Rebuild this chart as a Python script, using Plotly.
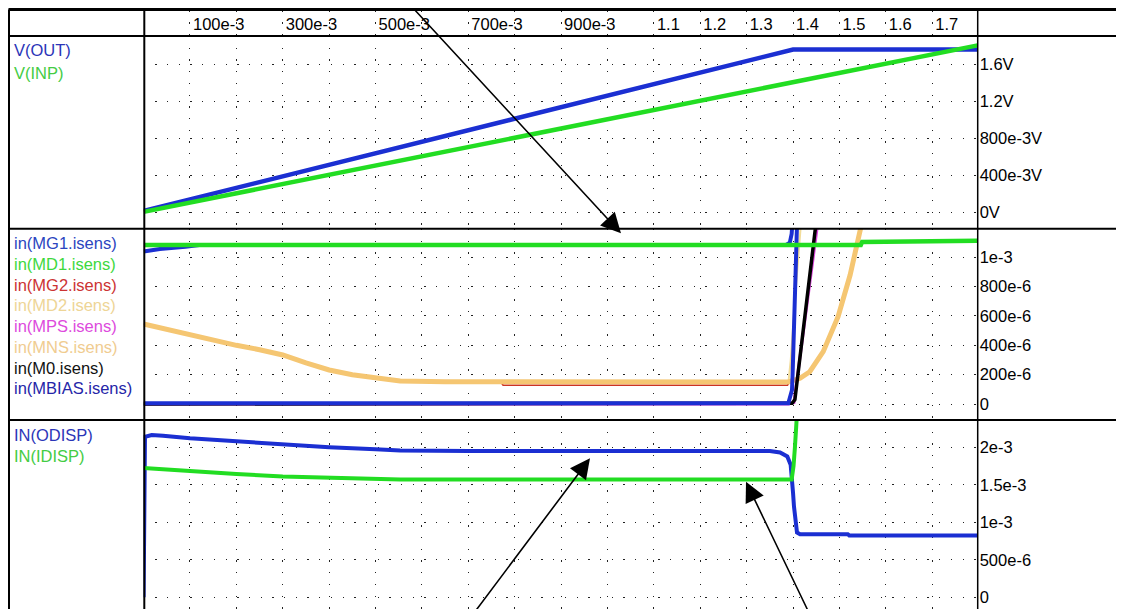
import plotly.graph_objects as go

W, H = 1124, 609
OX, OY = 8, 8  # page offset of the figure inside the browser window

# ---------------- data ----------------
# sweep axis (V)
x_ticks = [0.1, 0.2, 0.3, 0.4, 0.5, 0.6, 0.7, 0.8, 0.9, 1.0, 1.1, 1.2, 1.3, 1.4, 1.5, 1.6, 1.7]
x_tick_text = ["100e-3", "", "300e-3", "", "500e-3", "", "700e-3", "", "900e-3", "",
               "1.1", "1.2", "1.3", "1.4", "1.5", "1.6", "1.7"]

# panel 1 : voltages
x_vout = [0.0, 1.4, 1.798]
v_out = [0.015, 1.76, 1.76]
x_vinp = [0.0, 1.798]
v_inp = [0.005, 1.805]
p1_ticks = [0.0, 0.4, 0.8, 1.2, 1.6]
p1_tick_text = ["0V", "400e-3V", "800e-3V", "1.2V", "1.6V"]

# panel 2 : device currents
x_mg1 = [0.0, 0.035, 0.09, 0.12, 1.385, 1.393, 1.397, 1.40]
i_mg1 = [1.04e-3, 1.057e-3, 1.072e-3, 1.084e-3, 1.084e-3, 1.10e-3, 1.16e-3, 1.30e-3]

x_md1 = [0.0, 1.546, 1.549, 1.725, 1.728, 1.798]
i_md1 = [1.084e-3, 1.084e-3, 1.105e-3, 1.105e-3, 1.112e-3, 1.112e-3]

x_mg2 = [0.0, 0.1, 0.2, 0.25, 0.3, 0.35, 0.4, 0.45, 0.5, 0.553, 0.65, 0.77, 0.775,
         1.388, 1.392, 1.415, 1.436, 1.465, 1.497, 1.523, 1.548, 1.56]
i_mg2 = [0.545e-3, 0.47e-3, 0.40e-3, 0.37e-3, 0.334e-3, 0.28e-3, 0.232e-3, 0.20e-3, 0.175e-3,
         0.157e-3, 0.152e-3, 0.15e-3, 0.128e-3, 0.128e-3, 0.15e-3, 0.172e-3, 0.216e-3,
         0.352e-3, 0.59e-3, 0.875e-3, 1.22e-3, 1.40e-3]

x_md2 = [0.0, 0.1, 0.2, 0.25, 0.3, 0.35, 0.4, 0.45, 0.5, 0.553, 0.65, 1.39, 1.395, 1.405, 1.417, 1.42]
i_md2 = [0.545e-3, 0.47e-3, 0.40e-3, 0.37e-3, 0.334e-3, 0.28e-3, 0.232e-3, 0.20e-3, 0.175e-3,
         0.157e-3, 0.152e-3, 0.15e-3, 0.30e-3, 0.75e-3, 1.25e-3, 1.35e-3]

x_mps = [0.0, 1.39, 1.402, 1.41, 1.451, 1.456]
i_mps = [0.0, 0.0, 0.01e-3, 0.20e-3, 1.19e-3, 1.30e-3]

x_mns = [0.0, 0.1, 0.2, 0.25, 0.3, 0.35, 0.4, 0.45, 0.5, 0.553, 0.65, 1.0, 1.39,
         1.415, 1.436, 1.465, 1.497, 1.523, 1.548, 1.56]
i_mns = [0.545e-3, 0.47e-3, 0.40e-3, 0.37e-3, 0.334e-3, 0.28e-3, 0.232e-3, 0.20e-3, 0.175e-3,
         0.157e-3, 0.152e-3, 0.15e-3, 0.15e-3, 0.175e-3, 0.22e-3, 0.357e-3, 0.595e-3,
         0.879e-3, 1.22e-3, 1.40e-3]

x_m0 = [0.0, 1.39, 1.398, 1.404, 1.447, 1.452]
i_m0 = [0.0, 0.0, 0.005e-3, 0.03e-3, 1.19e-3, 1.30e-3]

x_mbias = [0.0, 1.3898, 1.3977, 1.3992, 1.4085, 1.412]
i_mbias = [0.005e-3, 0.005e-3, 0.095e-3, 0.22e-3, 1.22e-3, 1.50e-3]

p2_ticks = [0.0, 200e-6, 400e-6, 600e-6, 800e-6, 1e-3]
p2_tick_text = ["0", "200e-6", "400e-6", "600e-6", "800e-6", "1e-3"]

# panel 3 : displacement currents
x_odisp = [0.0, 0.003, 0.0175, 0.042, 0.1, 0.2, 0.3, 0.4, 0.5, 0.553, 0.7, 1.0, 1.35, 1.372,
           1.3876, 1.3948, 1.3977, 1.400, 1.402, 1.405, 1.4085, 1.415, 1.518, 1.521, 1.798]
i_odisp = [0.0, 2.14e-3, 2.163e-3, 2.155e-3, 2.12e-3, 2.077e-3, 2.04e-3, 2.0e-3, 1.973e-3,
           1.958e-3, 1.952e-3, 1.95e-3, 1.95e-3, 1.93e-3, 1.877e-3, 1.767e-3, 1.61e-3, 1.39e-3,
           1.21e-3, 0.989e-3, 0.864e-3, 0.84e-3, 0.84e-3, 0.825e-3, 0.825e-3]

x_idisp = [0.0, 0.1, 0.2, 0.3, 0.4, 0.5, 0.553, 1.397, 1.401, 1.404, 1.407, 1.41, 1.798]
i_idisp = [1.723e-3, 1.677e-3, 1.643e-3, 1.61e-3, 1.59e-3, 1.576e-3, 1.57e-3, 1.572e-3,
           1.75e-3, 2.0e-3, 2.35e-3, 2.6e-3, 2.6e-3]

p3_ticks = [0.0, 0.5e-3, 1.0e-3, 1.5e-3, 2.0e-3]
p3_tick_text = ["0", "500e-6", "1e-3", "1.5e-3", "2e-3"]

# legend labels
p1_names = ["V(OUT)", "V(INP)"]
p2_names = ["in(MG1.isens)", "in(MD1.isens)", "in(MG2.isens)", "in(MD2.isens)",
            "in(MPS.isens)", "in(MNS.isens)", "in(M0.isens)", "in(MBIAS.isens)"]
p3_names = ["IN(ODISP)", "IN(IDISP)"]

# ---------------- styling ----------------
BLUE = "#1b2fd2"
GREEN = "#22dd22"
RED = "#cc3322"
ORANGE = "#f5c672"
PALE = "#f2dc9a"
MAGENTA = "#dd44dd"
BLACK = "#000000"
FONT = "Liberation Sans, Arial, sans-serif"
FS = 16.5

p1_colors = ["#2b35b8", "#44cc44"]
p2_colors = ["#2b45c0", "#3ed83e", "#cc3333", "#eed596", "#dd4add", "#f0cc90", "#111111", "#2525a8"]
p3_colors = ["#2b35b8", "#44cc44"]


def py(px):
    """screen pixel row -> paper y"""
    return 1 - (px - OY) / H


def pxx(px):
    """screen pixel column -> paper x"""
    return (px - OX) / W


XDOM = [pxx(143.6), pxx(977.7)]
XRANGE = [0.0, (977.7 - 143.6) / 463.9]
DOT = "1.3px,10.4px"
GRIDC = "#222222"

fig = go.Figure()

# header (only for the tick labels / grid marks)
fig.add_trace(go.Scatter(x=[], y=[], xaxis="x", yaxis="y", showlegend=False, hoverinfo="skip"))

# panel 1
fig.add_trace(go.Scatter(x=x_vout, y=v_out, mode="lines", line=dict(color=BLUE, width=4.5),
                         xaxis="x2", yaxis="y2", name=p1_names[0]))
fig.add_trace(go.Scatter(x=x_vinp, y=v_inp, mode="lines", line=dict(color=GREEN, width=4.5),
                         xaxis="x2", yaxis="y2", name=p1_names[1]))

# panel 2 (drawing order: bottom -> top)
p2 = [
    (x_mg2, i_mg2, RED, 1.6, p2_names[2]),
    (x_md2, i_md2, PALE, 2.0, p2_names[3]),
    (x_mns, i_mns, ORANGE, 5.0, p2_names[5]),
    (x_mps, i_mps, MAGENTA, 3.0, p2_names[4]),
    (x_m0, i_m0, BLACK, 3.5, p2_names[6]),
    (x_mbias, i_mbias, BLUE, 4.0, p2_names[7]),
    (x_mg1, i_mg1, BLUE, 4.0, p2_names[0]),
    (x_md1, i_md1, GREEN, 4.5, p2_names[1]),
]
for xs, ys, c, w, n in p2:
    fig.add_trace(go.Scatter(x=xs, y=ys, mode="lines", line=dict(color=c, width=w),
                             xaxis="x3", yaxis="y3", name=n))

# panel 3
fig.add_trace(go.Scatter(x=x_odisp, y=i_odisp, mode="lines", line=dict(color=BLUE, width=4),
                         xaxis="x4", yaxis="y4", name=p3_names[0]))
fig.add_trace(go.Scatter(x=x_idisp, y=i_idisp, mode="lines", line=dict(color=GREEN, width=4),
                         xaxis="x4", yaxis="y4", name=p3_names[1]))

common_x = dict(domain=XDOM, range=XRANGE, tickvals=x_ticks, showgrid=True, gridcolor=GRIDC,
                gridwidth=1.3, griddash=DOT, zeroline=False, showline=False, ticks="",
                fixedrange=True)


def yax(rng, dom, ticks, text, anchor):
    return dict(domain=dom, range=rng, tickvals=ticks, ticktext=text, side="right",
                showgrid=True, gridcolor=GRIDC, gridwidth=1.3, griddash=DOT, zeroline=False,
                showline=False, ticks="", anchor=anchor, ticklabelstandoff=1,
                tickfont=dict(family=FONT, size=FS, color="#000000"))


BOTTOM = H + OY  # screen row of the figure's bottom edge
fig.update_layout(
    width=W, height=H, autosize=False,
    margin=dict(l=0, r=0, t=0, b=0, pad=0),
    paper_bgcolor="white", plot_bgcolor="white",
    showlegend=False,
    font=dict(family=FONT, size=FS, color="#000000"),
    xaxis=dict(common_x, anchor="y", side="top", ticktext=x_tick_text,
               ticklabelposition="inside right", ticklabelshift=3, ticklabelstandoff=2,
               tickfont=dict(family=FONT, size=FS, color="#000000")),
    yaxis=dict(domain=[py(36), py(10.5)], range=[0, 1], visible=False, anchor="x"),
    xaxis2=dict(common_x, anchor="y2", showticklabels=False),
    xaxis3=dict(common_x, anchor="y3", showticklabels=False),
    xaxis4=dict(common_x, anchor="y4", showticklabels=False),
    yaxis2=yax([-(229 - 212.3) / 92.5, (212.3 - 36) / 92.5], [py(229), py(36)],
               p1_ticks, p1_tick_text, "x2"),
    yaxis3=yax([-(420 - 404) / 146.7e3, (404 - 229) / 146.7e3], [py(420), py(229)],
               p2_ticks, p2_tick_text, "x3"),
    yaxis4=yax([-(BOTTOM - 597.3) / 75e3, (597.3 - 420) / 75e3], [0, py(420)],
               p3_ticks, p3_tick_text, "x4"),
)

# frame lines of the viewer window
frame = [
    (8.5, 9.5, W + OX, 9.5, 3),
    (9, 9.5, 9, BOTTOM, 2),
    (8.5, 36, W + OX, 36, 2),
    (8.5, 228.7, W + OX, 228.7, 2),
    (8.5, 420, W + OX, 420, 2),
    (144.3, 9.5, 144.3, BOTTOM, 2),
    (977.7, 9.5, 977.7, BOTTOM, 1.5),
]
for x0, y0, x1, y1, w in frame:
    fig.add_shape(type="line", xref="paper", yref="paper", x0=pxx(x0), y0=py(y0),
                  x1=pxx(x1), y1=py(y1), line=dict(color="#000000", width=w), layer="above")


# legend labels (coloured text, no symbols)
def add_labels(names, colors, y_first, step):
    for k, (n, c) in enumerate(zip(names, colors)):
        fig.add_annotation(xref="paper", yref="paper", x=pxx(12), y=py(y_first + k * step),
                           text=n, showarrow=False, xanchor="left", yanchor="middle",
                           font=dict(family=FONT, size=FS, color=c))


add_labels(p1_names, p1_colors, 49.7, 23.0)
add_labels(p2_names, p2_colors, 243.3, 20.7)
add_labels(p3_names, p3_colors, 435.0, 21.0)

# annotation arrows (tip in screen pixels, tail offset in pixels)
arrows = [
    (621, 233.3, -208, -257),
    (590, 458.3, -119, 166),
    (746, 481.7, 65, 140),
]
for tx, ty, ax, ay in arrows:
    fig.add_annotation(xref="paper", yref="paper", x=pxx(tx), y=py(ty), ax=ax, ay=ay,
                       text="", showarrow=True, arrowhead=2, arrowsize=2.5, arrowwidth=1.6,
                       arrowcolor="#000000", standoff=0, startstandoff=0)

fig.write_html("out.html")
